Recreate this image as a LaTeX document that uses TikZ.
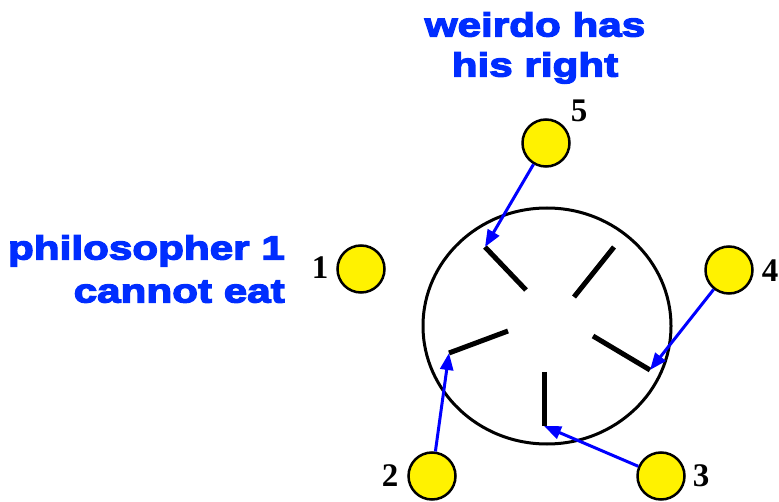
\documentclass[tikz,border=0pt]{standalone}
\usepackage{fontspec}
\setmainfont{Liberation Serif}
\newfontfamily\notefont[FakeStretch=1.26,FakeBold=4,BoldFeatures={FakeBold=4}]{Liberation Sans}
\usetikzlibrary{arrows.meta}

\definecolor{noteblue}{RGB}{0,45,255}

\tikzset{
  phil/.style={circle,draw,line width=2.5pt,fill=yellow,minimum size=47pt,inner sep=0pt},
  seat/.style={font=\fontsize{33}{33}\selectfont\bfseries},
  note/.style={text=noteblue,inner sep=0pt,font=\notefont\bfseries\fontsize{33.5}{40}\selectfont},
  stick/.style={line width=5pt},
  grab/.style={blue,line width=3pt,-{Triangle[length=17pt,width=13pt]}}
}

\begin{document}
\begin{tikzpicture}[x=1pt,y=-1pt]
  \useasboundingbox (0,0) rectangle (779,502);
  % table
  \draw[line width=3pt] (547,326) ellipse [x radius=124pt,y radius=118pt];
  % chopsticks
  \draw[stick] (485,247) coordinate (s5) -- (526,290);
  \draw[stick] (614,247) -- (574,297);
  \draw[stick] (449,353) coordinate (s2) -- (508,331);
  \draw[stick] (593,336) -- (650,370) coordinate (s4);
  \draw[stick] (544,372) -- (544,426) coordinate (s3);
  % philosophers
  \node[phil] (p1) at (361,269) {};
  \node[phil] (p2) at (432,476) {};
  \node[phil] (p3) at (661,476) {};
  \node[phil] (p4) at (729,270) {};
  \node[phil] (p5) at (546,143) {};
  \node[seat] (n1) at (320,268) {1};
  \node[seat] (n2) at (390,476) {2};
  \node[seat] (n3) at (701,476) {3};
  \node[seat] (n4) at (770,271) {4};
  \node[seat] (n5) at (579,111) {5};
  % notes
  \node[note,align=center,anchor=north] (weirdo) at (535,12) {weirdo has\\his right};
  \node[note,align=right,anchor=north east] (cannot) at (285,235) {philosopher 1\\[3pt]cannot eat};
  % who holds what
  \draw[grab] (p5) -- (s5);
  \draw[grab] (p4) -- (s4);
  \draw[grab] (p3) -- (s3);
  \draw[grab] (p2) -- (s2);
\end{tikzpicture}
\end{document}
